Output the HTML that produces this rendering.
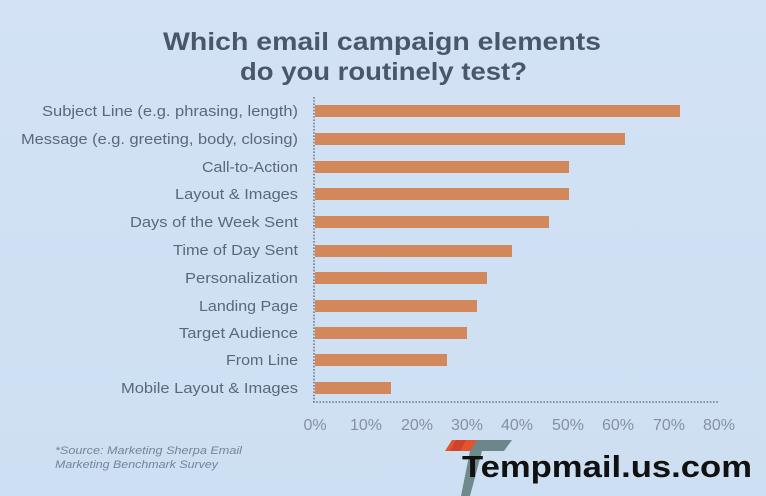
<!DOCTYPE html>
<html>
<head>
<meta charset="utf-8">
<style>
  html, body { margin:0; padding:0; }
  body { width:766px; height:496px; overflow:hidden; background:#cfdff3; }
  svg { display:block; }
</style>
</head>
<body>
<svg width="766" height="496" viewBox="0 0 766 496" xmlns="http://www.w3.org/2000/svg">
  <defs>
    <linearGradient id="bg" x1="0" y1="0" x2="0" y2="1">
      <stop offset="0" stop-color="#d3e2f5"/>
      <stop offset="1" stop-color="#cddff2"/>
    </linearGradient>
  </defs>
  <rect x="0" y="0" width="766" height="496" fill="url(#bg)"/>

  <!-- Title -->
  <g font-family="'Liberation Sans', Arial, sans-serif" font-weight="bold" fill="#4a576b" font-size="25">
    <text x="163" y="50" textLength="438" lengthAdjust="spacingAndGlyphs">Which email campaign elements</text>
    <text x="240" y="80" textLength="287" lengthAdjust="spacingAndGlyphs">do you routinely test?</text>
  </g>

  <!-- Category labels -->
  <g font-family="'Liberation Sans', Arial, sans-serif" font-size="15" fill="#5b687b" text-anchor="end">
    <text x="298" y="116" textLength="256" lengthAdjust="spacingAndGlyphs">Subject Line (e.g. phrasing, length)</text>
    <text x="298" y="144" textLength="277" lengthAdjust="spacingAndGlyphs">Message (e.g. greeting, body, closing)</text>
    <text x="298" y="172" textLength="96" lengthAdjust="spacingAndGlyphs">Call-to-Action</text>
    <text x="298" y="199" textLength="123" lengthAdjust="spacingAndGlyphs">Layout &amp; Images</text>
    <text x="298" y="227" textLength="168" lengthAdjust="spacingAndGlyphs">Days of the Week Sent</text>
    <text x="298" y="255" textLength="125" lengthAdjust="spacingAndGlyphs">Time of Day Sent</text>
    <text x="298" y="283" textLength="113" lengthAdjust="spacingAndGlyphs">Personalization</text>
    <text x="298" y="311" textLength="99" lengthAdjust="spacingAndGlyphs">Landing Page</text>
    <text x="298" y="338" textLength="119" lengthAdjust="spacingAndGlyphs">Target Audience</text>
    <text x="298" y="365" textLength="72" lengthAdjust="spacingAndGlyphs">From Line</text>
    <text x="298" y="393" textLength="177" lengthAdjust="spacingAndGlyphs">Mobile Layout &amp; Images</text>
  </g>

  <!-- Bars -->
  <g fill="#d2885a">
    <rect x="315" y="105" width="365" height="12"/>
    <rect x="315" y="133" width="310" height="12"/>
    <rect x="315" y="161" width="254" height="12"/>
    <rect x="315" y="188" width="254" height="12"/>
    <rect x="315" y="216" width="234" height="12"/>
    <rect x="315" y="245" width="197" height="12"/>
    <rect x="315" y="272" width="172" height="12"/>
    <rect x="315" y="300" width="162" height="12"/>
    <rect x="315" y="327" width="152" height="12"/>
    <rect x="315" y="354" width="132" height="12"/>
    <rect x="315" y="382" width="76" height="12"/>
  </g>

  <!-- Axes (dotted) -->
  <line x1="314" y1="97" x2="314" y2="402" stroke="#6f7a8c" stroke-width="1.6" stroke-dasharray="1.6,1.6"/>
  <line x1="313" y1="402" x2="718" y2="402" stroke="#6f7a8c" stroke-width="1.6" stroke-dasharray="1.6,1.6"/>

  <!-- Tick labels -->
  <g font-family="'Liberation Sans', Arial, sans-serif" font-size="16" fill="#8591a3" text-anchor="middle">
    <text x="315" y="430">0%</text>
    <text x="366" y="430">10%</text>
    <text x="417" y="430">20%</text>
    <text x="467" y="430">30%</text>
    <text x="517" y="430">40%</text>
    <text x="568" y="430">50%</text>
    <text x="618" y="430">60%</text>
    <text x="669" y="430">70%</text>
    <text x="719" y="430">80%</text>
  </g>

  <!-- Source -->
  <g font-family="'Liberation Sans', Arial, sans-serif" font-size="11" font-style="italic" fill="#76839a">
    <text x="55" y="454" textLength="187" lengthAdjust="spacingAndGlyphs">*Source: Marketing Sherpa Email</text>
    <text x="55" y="468" textLength="163" lengthAdjust="spacingAndGlyphs">Marketing Benchmark Survey</text>
  </g>

  <!-- Logo -->
  <polygon points="452,440 479,440 472,451 445,451" fill="#e0542e"/>
  <polygon points="456,440 466,440 460,451 450,451" fill="#c0392b" opacity="0.6"/>
  <polygon points="477,440 512,440 504,451 470,451" fill="#6d8689"/>
  <polygon points="470,451 482,451 470,496 461,496" fill="#6f8a8c"/>
  <text x="462" y="477" font-family="'Liberation Sans', Arial, sans-serif" font-weight="bold" font-size="31" fill="#111111" textLength="290" lengthAdjust="spacingAndGlyphs">Tempmail.us.com</text>
</svg>
</body>
</html>
